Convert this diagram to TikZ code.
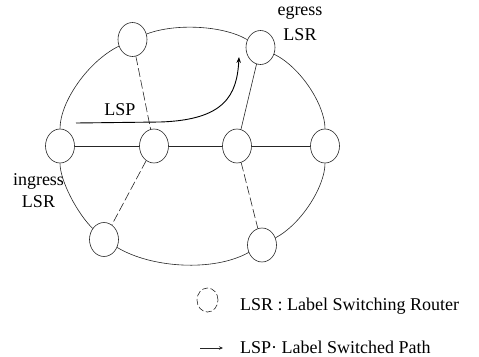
\documentclass[tikz,border=0pt]{standalone}
\usepackage{fontspec}
\setmainfont{Liberation Serif}
\usetikzlibrary{arrows.meta,shapes.geometric}
\begin{document}
\begin{tikzpicture}[x=1pt,y=1pt,
  lsr/.style={draw=black!85, line width=0.6pt, ellipse, minimum width=29pt, minimum height=34pt, inner sep=0pt, fill=white},
  link/.style={draw=black!85, line width=0.6pt},
  dlink/.style={link, dash pattern=on 9pt off 3pt},
  txt/.style={inner sep=0pt, font=\fontsize{18}{21}\selectfont}]
\useasboundingbox (0,0) rectangle (479,-356);
% routers
\node[lsr] (n1) at (132.5,-39.5) {};
\node[lsr] (n2) at (260.5,-47.5) {};
\node[lsr] (n3) at (60,-146) {};
\node[lsr] (n4) at (154,-146) {};
\node[lsr] (n5) at (237,-146) {};
\node[lsr] (n6) at (325,-146) {};
\node[lsr] (n7) at (104,-239.5) {};
\node[lsr] (n8) at (262,-245) {};
% outer ring
\draw[link] (n1) .. controls (88.4,-61.1) and (60,-101.6) .. (n3);
\draw[link] (n2) .. controls (222.6,-25.1) and (174.2,-23.3) .. (n1);
\draw[link] (n6) .. controls (325,-105.2) and (300.9,-67.4) .. (n2);
\draw[link] (n8) .. controls (301.3,-224.1) and (325,-186.5) .. (n6);
\draw[link] (n7) .. controls (151.4,-268.1) and (213.7,-272.0) .. (n8);
\draw[link] (n3) .. controls (60,-180.7) and (77.4,-213.6) .. (n7);
% inner links
\draw[link] (n3) -- (n4);
\draw[link] (n4) -- (n5);
\draw[link] (n5) -- (n6);
\draw[dlink] (n1) -- (n4);
\draw[dlink] (n4) -- (n7);
\draw[link] (n2) -- (n5);
\draw[dlink] (n5) -- (n8);
% LSP
\coordinate (lspstart) at (76,-123);
\coordinate (lsptip) at (239,-57);
\draw[line width=0.9pt, -{Stealth[length=6pt,width=4.5pt]}] (lspstart) -- (160,-122) .. controls (225,-120) and (237,-95) .. (lsptip);
\node[txt, anchor=base] (lsplbl) at (120,-115) {LSP};
\node[txt, anchor=base] (eg1) at (300,-16) {egress};
\node[txt, anchor=base] (eg2) at (300,-40) {LSR};
\node[txt, anchor=base] (in1) at (38.5,-185) {ingress};
\node[txt, anchor=base] (in2) at (38.5,-207) {LSR};
% legend
\node[draw=black!85, ellipse, minimum width=21pt, minimum height=24pt, inner sep=0pt, dash pattern=on 6pt off 2.5pt, line width=0.6pt] (legl) at (207.5,-300) {};
\node[txt, anchor=base west] (legt1) at (240,-310) {LSR : Label Switching Router};
\coordinate (la) at (200,-348);
\coordinate (lb) at (223,-348);
\draw[link, -{Stealth[length=4pt,width=3.5pt]}] (la) -- (lb);
\node[txt, anchor=base west] (legt2) at (240,-353) {LSP· Label Switched Path};
\end{tikzpicture}
\end{document}
